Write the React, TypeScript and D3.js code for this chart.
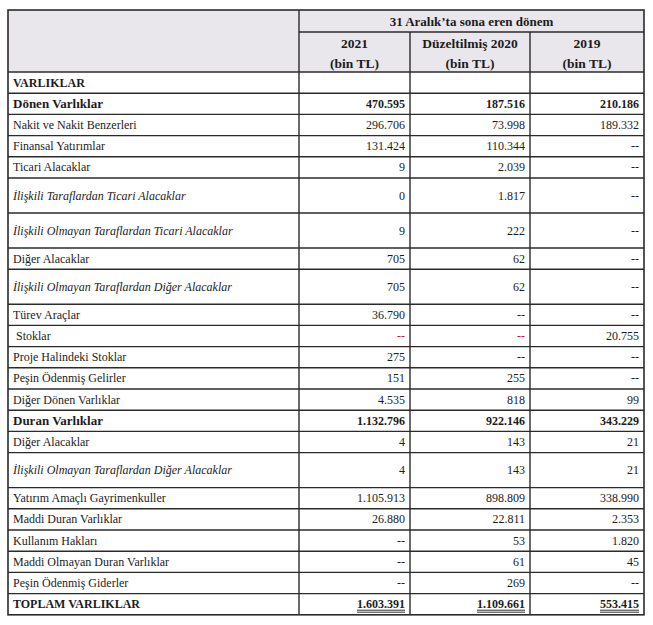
import React, { useEffect, useRef } from "react";
import * as d3 from "d3";

const W = 653;
const H = 625;

const periodTitle = "31 Aralık’ta sona eren dönem";
const columnYears = ["2021", "Düzeltilmiş 2020", "2019"];
const columnUnit = "(bin TL)";

const rowLabels = [
  "VARLIKLAR",
  "Dönen Varlıklar",
  "Nakit ve Nakit Benzerleri",
  "Finansal Yatırımlar",
  "Ticari Alacaklar",
  "İlişkili Taraflardan Ticari Alacaklar",
  "İlişkili Olmayan Taraflardan Ticari Alacaklar",
  "Diğer Alacaklar",
  "İlişkili Olmayan Taraflardan Diğer Alacaklar",
  "Türev Araçlar",
  " Stoklar",
  "Proje Halindeki Stoklar",
  "Peşin Ödenmiş Gelirler",
  "Diğer Dönen Varlıklar",
  "Duran Varlıklar",
  "Diğer Alacaklar",
  "İlişkili Olmayan Taraflardan Diğer Alacaklar",
  "Yatırım Amaçlı Gayrimenkuller",
  "Maddi Duran Varlıklar",
  "Kullanım Hakları",
  "Maddi Olmayan Duran Varlıklar",
  "Peşin Ödenmiş Giderler",
  "TOPLAM VARLIKLAR",
];

const rowKinds = [
  "section", "total", "item", "item", "item", "sub", "sub", "item", "sub",
  "item", "item", "item", "item", "item", "total", "item", "sub", "item",
  "item", "item", "item", "item", "grand",
];

const values2021 = [
  null, 470595, 296706, 131424, 9, 0, 9, 705, 705, 36790, null, 275, 151,
  4535, 1132796, 4, 4, 1105913, 26880, null, null, null, 1603391,
];
const values2020 = [
  null, 187516, 73998, 110344, 2039, 1817, 222, 62, 62, null, null, null, 255,
  818, 922146, 143, 143, 898809, 22811, 53, 61, 269, 1109661,
];
const values2019 = [
  null, 210186, 189332, null, null, null, null, null, null, null, 20755, null,
  null, 99, 343229, 21, 21, 338990, 2353, 1820, 45, null, 553415,
];

// cells whose "--" is printed in red (row index, column index)
const redMissing = [
  [10, 0],
  [10, 1],
];

export default function App() {
  const ref = useRef<SVGSVGElement>(null);

  useEffect(() => {
    const svg = d3.select(ref.current);
    svg.selectAll("*").remove();

    const fmt = d3
      .formatLocale({ decimal: ",", thousands: ".", grouping: [3], currency: ["", ""] })
      .format(",d");

    const font = "'Liberation Serif', 'Times New Roman', serif";
    const ink = "#1c1c1c";
    const lineCol = "#2b2b2b";
    const fs = 12;

    const colEdges = [8, 299, 410, 530, 644];
    const top = 10;
    const h1 = 22;
    const h2 = 40;
    const bodyTop = top + h1 + h2;
    const heights = rowKinds.map((k) => (k === "sub" ? 35 : 21.2));
    const ys = [bodyTop, ...Array.from(d3.cumsum(heights)).map((v) => bodyTop + v)];
    const bottom = ys[ys.length - 1];

    const series = [values2021, values2020, values2019];

    // header background
    svg
      .append("rect")
      .attr("x", colEdges[0])
      .attr("y", top)
      .attr("width", colEdges[4] - colEdges[0])
      .attr("height", h1 + h2)
      .attr("fill", "#e9e7ec");

    const g = svg.append("g");

    const hl = (x1: number, x2: number, y: number) =>
      g
        .append("line")
        .attr("x1", x1)
        .attr("x2", x2)
        .attr("y1", y)
        .attr("y2", y)
        .attr("stroke", lineCol)
        .attr("stroke-width", 1.4);
    const vl = (x: number, y1: number, y2: number) =>
      g
        .append("line")
        .attr("x1", x)
        .attr("x2", x)
        .attr("y1", y1)
        .attr("y2", y2)
        .attr("stroke", lineCol)
        .attr("stroke-width", 1.4);

    hl(colEdges[1], colEdges[4], top + h1);
    ys.slice(0, -1).forEach((y) => hl(colEdges[0], colEdges[4], y));
    vl(colEdges[1], top, bottom);
    vl(colEdges[2], top + h1, bottom);
    vl(colEdges[3], top + h1, bottom);

    // outer border
    svg
      .append("rect")
      .attr("x", colEdges[0])
      .attr("y", top)
      .attr("width", colEdges[4] - colEdges[0])
      .attr("height", bottom - top)
      .attr("fill", "none")
      .attr("stroke", lineCol)
      .attr("stroke-width", 1.6);

    const txt = svg.append("g").attr("font-family", font).attr("font-size", fs).attr("fill", ink);

    // header texts
    txt
      .append("text")
      .attr("x", (colEdges[1] + colEdges[4]) / 2)
      .attr("y", top + h1 / 2 + 4.5)
      .attr("text-anchor", "middle")
      .attr("font-weight", "bold")
      .attr("font-size", 13)
      .text(periodTitle);

    columnYears.forEach((yr, i) => {
      const cx = (colEdges[i + 1] + colEdges[i + 2]) / 2;
      txt
        .append("text")
        .attr("x", cx)
        .attr("y", top + h1 + 11 + 4.5)
        .attr("text-anchor", "middle")
        .attr("font-weight", "bold")
        .attr("font-size", 13.5)
        .text(yr);
      txt
        .append("text")
        .attr("x", cx)
        .attr("y", top + h1 + 31 + 4.5)
        .attr("text-anchor", "middle")
        .attr("font-weight", "bold")
        .attr("font-size", 13.5)
        .text(columnUnit);
    });

    // body rows
    rowLabels.forEach((label, r) => {
      const kind = rowKinds[r];
      const cy = (ys[r] + ys[r + 1]) / 2 + 4;
      const bold = kind === "section" || kind === "total" || kind === "grand";
      txt
        .append("text")
        .attr("x", colEdges[0] + 5)
        .attr("y", cy)
        .attr("font-weight", bold ? "bold" : "normal")
        .attr("font-size", kind === "total" ? 13 : fs)
        .attr("font-style", kind === "sub" ? "italic" : "normal")
        .style("white-space", "pre")
        .text(label);

      if (kind === "section") return;

      series.forEach((vals, c) => {
        const v = vals[r];
        const isMissing = v === null;
        const red = isMissing && redMissing.some(([rr, cc]) => rr === r && cc === c);
        const xr = colEdges[c + 2] - 5;
        const t = txt
          .append("text")
          .attr("x", xr)
          .attr("y", cy)
          .attr("text-anchor", "end")
          .attr("font-weight", kind === "total" || kind === "grand" ? "bold" : "normal")
          .attr("fill", red ? "#c0262d" : ink)
          .text(isMissing ? "--" : fmt(v as number));
        if (kind === "grand") {
          const w = (t.node() as SVGTextElement).getComputedTextLength();
          [2, 4].forEach((dy) =>
            txt
              .append("line")
              .attr("x1", xr - w)
              .attr("x2", xr)
              .attr("y1", cy + dy)
              .attr("y2", cy + dy)
              .attr("stroke", ink)
              .attr("stroke-width", 0.9)
          );
        }
      });
    });
  }, []);

  return (
    <svg
      ref={ref}
      width={W}
      height={H}
      style={{ position: "absolute", left: 0, top: 0, display: "block", background: "#fff" }}
    />
  );
}
